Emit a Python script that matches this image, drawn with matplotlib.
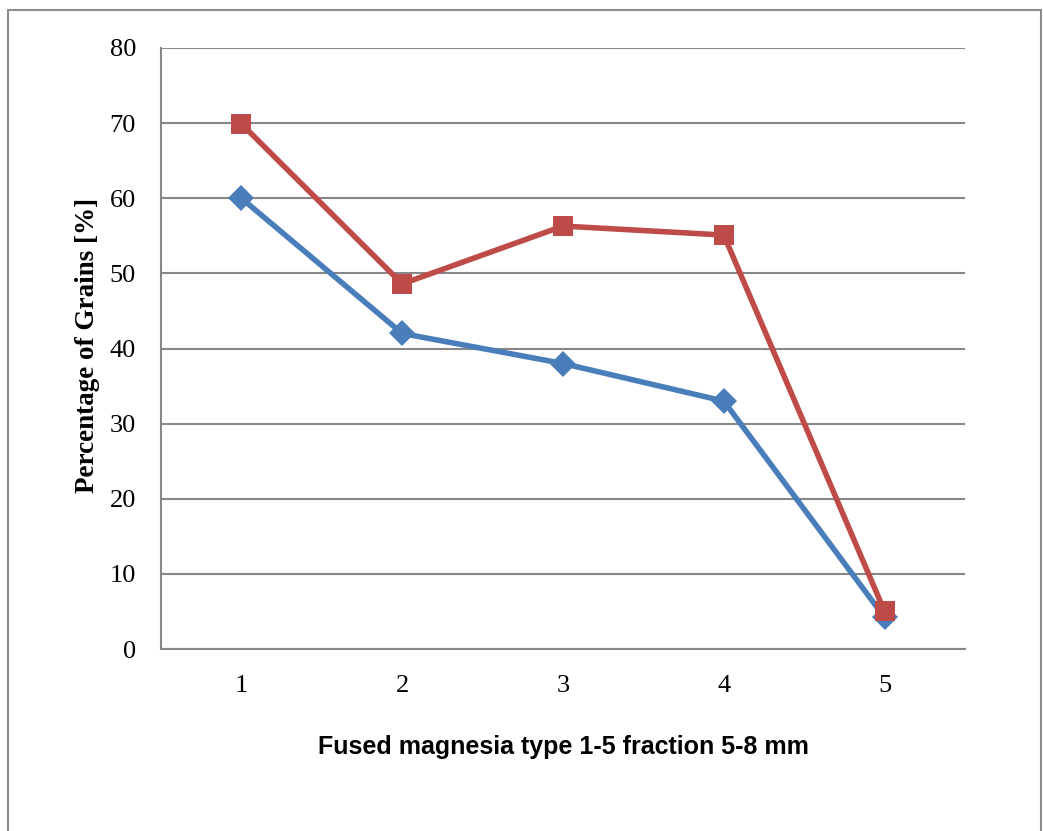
import matplotlib
matplotlib.use("Agg")
import matplotlib.pyplot as plt
from matplotlib.patches import Rectangle

categories = [1, 2, 3, 4, 5]
series_blue = [60, 42, 38, 33, 4.2]
series_red = [69.9, 48.6, 56.3, 55.1, 5.0]
y_ticks = [0, 10, 20, 30, 40, 50, 60, 70, 80]

W, H = 1043, 831
fig = plt.figure(figsize=(W / 100, H / 100), dpi=100)
ax = fig.add_axes([161 / W, 1 - 649 / H, (965 - 161) / W, (649 - 48) / H])

# outer frame
fig.patches.append(Rectangle((8 / W, -0.05), (1041 - 8) / W, (1 - 10 / H) + 0.05,
                             transform=fig.transFigure, fill=False,
                             edgecolor="#8c8c8c", linewidth=1.5))

grid_c = "#878787"
for y in y_ticks:
    ax.axhline(y, color=grid_c, linewidth=1.5, zorder=1)

ax.plot(categories, series_blue, color="#4A7EBB", linewidth=4, marker="D",
        markersize=13, markeredgewidth=0, zorder=3, solid_joinstyle="miter")
ax.plot(categories, series_red, color="#BE4B48", linewidth=4, marker="s",
        markersize=14.5, markeredgewidth=0, zorder=4, solid_joinstyle="miter")

ax.set_xlim(0.5, 5.5)
ax.set_ylim(0, 80)
ax.set_yticks(y_ticks)
ax.set_xticks(categories)
for s in ["top", "right"]:
    ax.spines[s].set_visible(False)
ax.spines["left"].set_color(grid_c)
ax.spines["bottom"].set_color(grid_c)
ax.spines["left"].set_linewidth(1.5)
ax.spines["bottom"].set_linewidth(1.5)
ax.tick_params(length=0, labelsize=19)
ax.tick_params(axis="y", pad=18)
ax.tick_params(axis="x", pad=19)
for lab in ax.get_xticklabels() + ax.get_yticklabels():
    lab.set_family(["Liberation Serif", "DejaVu Serif"])

fig.text(88 / W, 1 - 345 / H, "Percentage of Grains [%]", rotation=90,
         ha="center", va="center", fontsize=19.5, fontweight="bold",
         family=["Liberation Serif", "DejaVu Serif"])
fig.text(563 / W, 1 - 747 / H, "Fused magnesia type 1-5 fraction 5-8 mm",
         ha="center", va="center", fontsize=18, fontweight="bold",
         family=["Liberation Sans", "DejaVu Sans"])

fig.savefig("out.png", dpi=100)
